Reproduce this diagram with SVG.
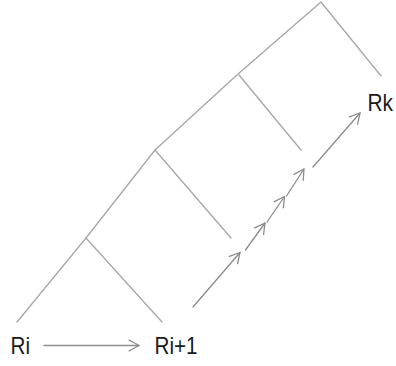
<svg xmlns="http://www.w3.org/2000/svg" width="396" height="366" viewBox="0 0 396 366">
  <style>
    .tree { fill: none; stroke: #a6a6a6; stroke-width: 1.3; stroke-linecap: round; stroke-linejoin: round; }
    .arr { fill: none; stroke: #8c8c8c; stroke-width: 1.3; stroke-linecap: round; }
    .lbl { font-family: "Liberation Sans", Arial, sans-serif; font-size: 24px; fill: #1a1a1a; }
  </style>
  <defs>
    <marker id="head" markerUnits="userSpaceOnUse" markerWidth="14" markerHeight="14" viewBox="-12 -7 14 14" refX="0" refY="0" orient="auto">
      <path d="M-10,-5.5 L0,0 L-10,5.5" fill="none" stroke="#8c8c8c" stroke-width="1.3" stroke-linecap="round" stroke-linejoin="round"/>
    </marker>
  </defs>
  <rect width="396" height="366" fill="#ffffff"/>
  <g id="tree">
    <polyline class="tree" points="17,322 86,238 155,150 238,74 321,2 381,76"/>
    <line class="tree" x1="86" y1="238" x2="162" y2="322"/>
    <line class="tree" x1="155" y1="150" x2="231" y2="238"/>
    <line class="tree" x1="239" y1="75" x2="301" y2="150"/>
  </g>
  <g id="connectors">
    <line class="arr" x1="44" y1="345.5" x2="139" y2="345.5" marker-end="url(#head)"/>
    <line class="arr" x1="193" y1="307" x2="240" y2="252.5" marker-end="url(#head)"/>
    <line class="arr" x1="245.5" y1="250" x2="265" y2="223" marker-end="url(#head)"/>
    <line class="arr" x1="267" y1="222" x2="284.5" y2="196.5" marker-end="url(#head)"/>
    <line class="arr" x1="286.5" y1="196" x2="304" y2="169" marker-end="url(#head)"/>
    <line class="arr" x1="313" y1="167" x2="360" y2="113" marker-end="url(#head)"/>
  </g>
  <g id="node-ri"><text class="lbl" x="10.5" y="354" textLength="19.5" lengthAdjust="spacingAndGlyphs">Ri</text></g>
  <g id="node-ri1"><text class="lbl" x="154.5" y="354" textLength="43" lengthAdjust="spacingAndGlyphs">Ri+1</text></g>
  <g id="node-rk"><text class="lbl" x="367.5" y="110.5" textLength="25.5" lengthAdjust="spacingAndGlyphs">Rk</text></g>
</svg>
